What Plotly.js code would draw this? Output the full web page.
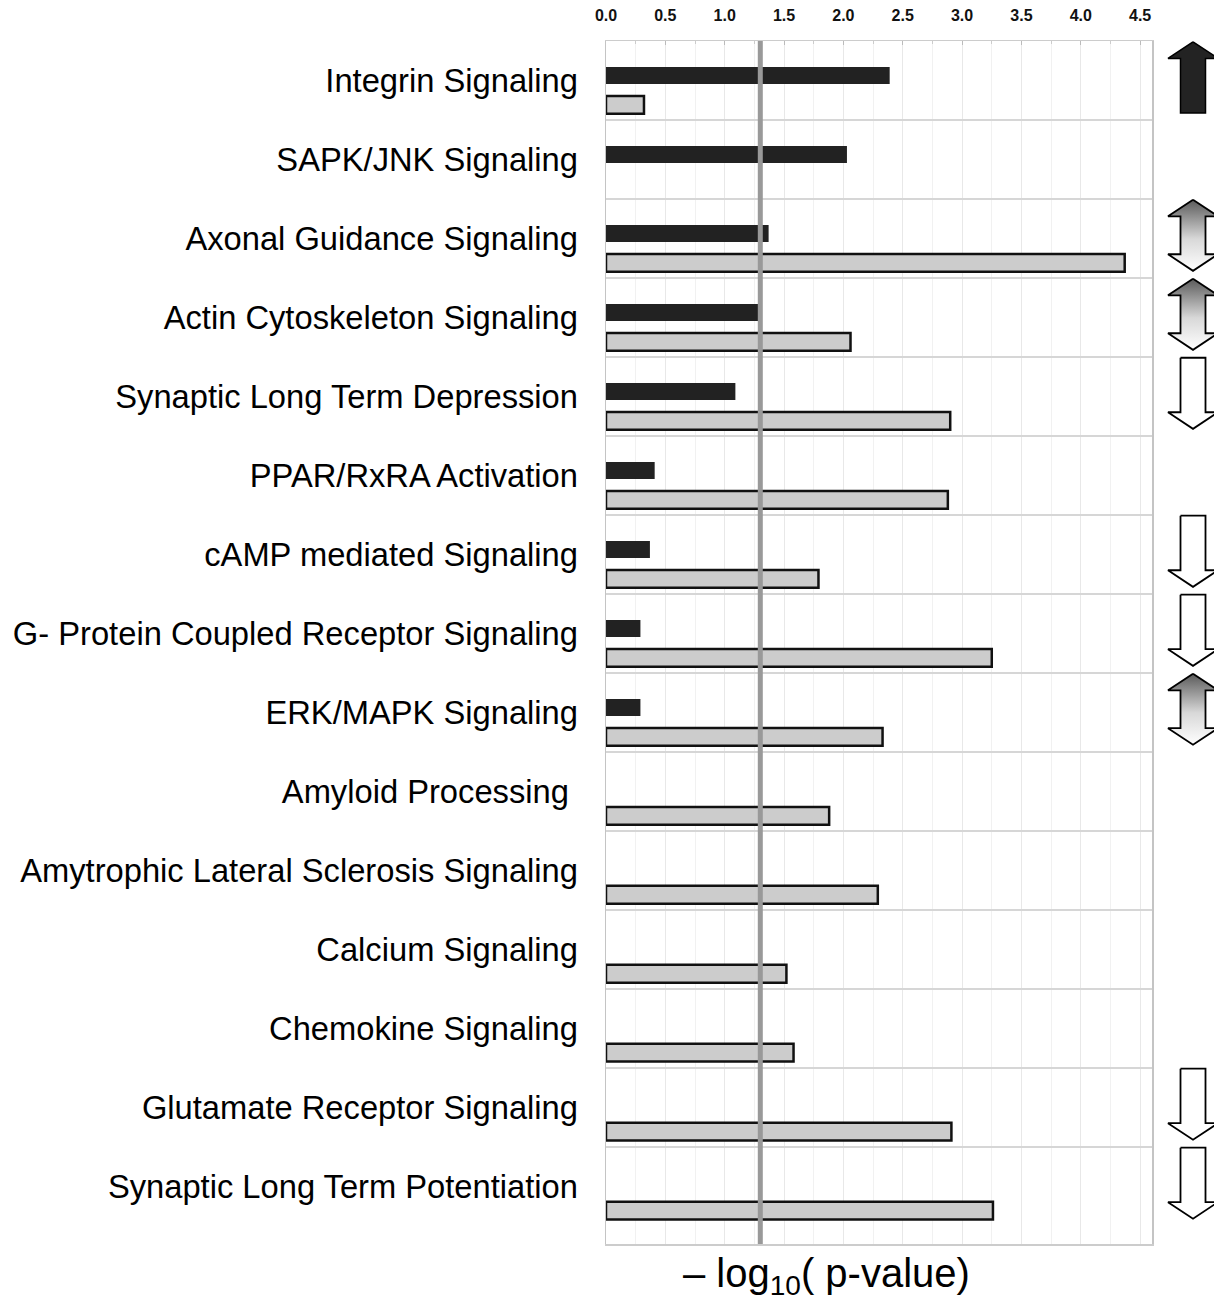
<!DOCTYPE html>
<html>
<head>
<meta charset="utf-8">
<script src="https://cdn.plot.ly/plotly-3.0.1.min.js"></script>
<style>html,body{margin:0;padding:0;background:#fff;}</style>
</head>
<body>
<div id="chart" style="width:1214px;height:1309px;"></div>
<script>
// ---- data ----
const categories = [
  "Integrin Signaling",
  "SAPK/JNK Signaling",
  "Axonal Guidance Signaling",
  "Actin Cytoskeleton Signaling",
  "Synaptic Long Term Depression",
  "PPAR/RxRA Activation",
  "cAMP mediated Signaling",
  "G- Protein Coupled Receptor Signaling",
  "ERK/MAPK Signaling",
  "Amyloid Processing ",
  "Amytrophic Lateral Sclerosis Signaling",
  "Calcium Signaling",
  "Chemokine Signaling",
  "Glutamate Receptor Signaling",
  "Synaptic Long Term Potentiation"
];
// dark bars
const darkValues = [2.39, 2.03, 1.37, 1.30, 1.09, 0.41, 0.37, 0.29, 0.29, null, null, null, null, null, null];
// light (outlined) bars
const lightValues = [0.32, null, 4.37, 2.06, 2.90, 2.88, 1.79, 3.25, 2.33, 1.88, 2.29, 1.52, 1.58, 2.91, 3.26];
// arrows at the right: "up", "down", "both" or ""
const arrowDirection = ["up", "", "both", "both", "down", "", "down", "down", "both", "", "", "", "", "down", "down"];
const xTickValues = [0, 0.5, 1.0, 1.5, 2.0, 2.5, 3.0, 3.5, 4.0, 4.5];
const thresholdValue = 1.3;
const xAxisTitle = "– log<sub>10</sub>( p-value)";

// ---- build traces ----
const traces = [];
traces.push({
  type: "bar", orientation: "h",
  y: categories, x: darkValues,
  offset: -0.171, width: 0.215,
  marker: { color: "#222222", line: { width: 0 } },
  xaxis: "x", yaxis: "y", hoverinfo: "x+y"
});
traces.push({
  type: "bar", orientation: "h",
  y: categories, x: lightValues,
  offset: 0.196, width: 0.225,
  marker: { color: "#cccccc", line: { color: "#111111", width: 2.5 } },
  xaxis: "x", yaxis: "y", hoverinfo: "x+y"
});

// arrows on a side subplot (x2 in pixel-like units, y2 in category-index units)
const cx = 41, headHalf = 25, shaftHalf = 12.5, headLen = 0.21;
arrowDirection.forEach(function (dir, i) {
  if (!dir) return;
  const t = i - 0.5 + 0.01, b = i - 0.5 + 0.91;
  let xs, ys, style;
  if (dir === "up") {
    xs = [cx, cx + headHalf, cx + shaftHalf, cx + shaftHalf, cx - shaftHalf, cx - shaftHalf, cx - headHalf, cx];
    ys = [t, t + headLen, t + headLen, b, b, t + headLen, t + headLen, t];
    style = { fill: "toself", fillcolor: "#232323", line: { color: "#000", width: 1.5 } };
  } else if (dir === "down") {
    xs = [cx - shaftHalf, cx + shaftHalf, cx + shaftHalf, cx + headHalf, cx, cx - headHalf, cx - shaftHalf, cx - shaftHalf];
    ys = [t, t, b - headLen, b - headLen, b, b - headLen, b - headLen, t];
    style = { fill: "toself", fillcolor: "#ffffff", line: { color: "#000", width: 1.8 } };
  } else {
    xs = [cx, cx + headHalf, cx + shaftHalf, cx + shaftHalf, cx + headHalf, cx, cx - headHalf, cx - shaftHalf, cx - shaftHalf, cx - headHalf, cx];
    ys = [t, t + headLen, t + headLen, b - headLen, b - headLen, b, b - headLen, b - headLen, t + headLen, t + headLen, t];
    style = { fill: "toself",
      fillgradient: { type: "vertical", colorscale: [[0, "#ffffff"], [0.45, "#d8d8d8"], [1, "#5a5a5a"]] },
      line: { color: "#000", width: 1.8 } };
  }
  traces.push(Object.assign({
    type: "scatter", mode: "lines", x: xs, y: ys,
    xaxis: "x2", yaxis: "y2", hoverinfo: "skip", showlegend: false
  }, style));
});

const yRange = [14.73, -0.5];
const layout = {
  width: 1214, height: 1309,
  margin: { l: 606, r: 0, t: 41, b: 65 },
  paper_bgcolor: "#ffffff", plot_bgcolor: "#ffffff",
  showlegend: false, barmode: "overlay",
  font: { family: "Arial, Liberation Sans, sans-serif", color: "#000" },
  xaxis: {
    domain: [0, 0.89803], range: [0, 4.6], side: "top", anchor: "y",
    tickvals: xTickValues, tickformat: ".1f",
    tickfont: { family: "Arial, Liberation Sans, sans-serif", size: 16, color: "#111", weight: "bold" },
    ticks: "inside", ticklen: 4, tickcolor: "#bbbbbb", ticklabelstandoff: 12,
    showgrid: true, gridcolor: "#e8e8e8", gridwidth: 1,
    minor: { dtick: 0.25, showgrid: true, gridcolor: "#f1f1f1", ticks: "inside", ticklen: 3, tickcolor: "#cccccc" },
    showline: true, linecolor: "#cccccc", linewidth: 1.5, mirror: true, zeroline: false
  },
  yaxis: {
    type: "category", categoryorder: "array", categoryarray: categories,
    range: yRange, autorange: false, anchor: "x",
    tickson: "boundaries", ticks: "", showgrid: true, gridcolor: "#d6d6d6", gridwidth: 1.5,
    tickfont: { family: "Arial, Liberation Sans, sans-serif", size: 32.7, color: "#000" },
    ticklabelstandoff: 20,
    showline: true, linecolor: "#c4c4c4", linewidth: 1.5, mirror: true, zeroline: false
  },
  xaxis2: { domain: [0.89803, 1], range: [0, 62], anchor: "y2", visible: false, showgrid: false, zeroline: false },
  yaxis2: { domain: [0, 1], range: yRange, anchor: "x2", visible: false, showgrid: false, zeroline: false },
  shapes: [{
    type: "line", xref: "x", yref: "paper", x0: thresholdValue, x1: thresholdValue, y0: 0, y1: 1,
    line: { color: "#999999", width: 5 }, layer: "above"
  }],
  annotations: [{
    text: xAxisTitle, xref: "paper", yref: "paper", x: 0.362, y: -0.027,
    xanchor: "center", yanchor: "middle", showarrow: false,
    font: { family: "Arial, Liberation Sans, sans-serif", size: 40, color: "#000" }
  }]
};

Plotly.newPlot("chart", traces, layout, { displayModeBar: false, staticPlot: true });
</script>
</body>
</html>
